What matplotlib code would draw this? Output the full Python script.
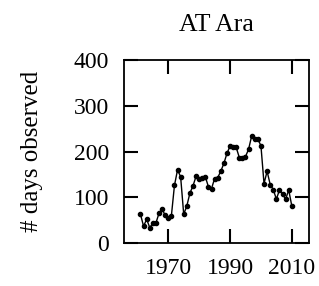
import matplotlib
matplotlib.use("Agg")
import matplotlib.pyplot as plt

years = list(range(1961, 2011))
days = [63, 37, 52, 34, 43, 44, 65, 74, 61, 54,
        59, 126, 160, 145, 63, 81, 109, 125, 146, 139,
        142, 145, 123, 119, 141, 143, 157, 174, 196, 212,
        211, 209, 187, 185, 189, 205, 234, 227, 227, 213,
        130, 157, 128, 117, 96, 116, 107, 96, 116, 81]
xticks = [1970, 1990, 2010]
yticks = [0, 100, 200, 300, 400]

plt.rcParams['font.family'] = ['Liberation Serif', 'DejaVu Serif']
fig = plt.figure(figsize=(3.19, 2.86), dpi=100)
ax = fig.add_axes([0.390, 0.150, 0.579, 0.640])
ax.plot(years, days, color='black', lw=1.0, marker='o', markersize=3)
ax.set_xlim(1955.8, 2015.6)
ax.set_ylim(0, 400)
ax.set_xticks(xticks)
ax.set_yticks(yticks)
ax.tick_params(direction='in', length=10, width=1.5, top=True, right=True,
               labelsize=17, pad=11)
for s in ax.spines.values():
    s.set_linewidth(1.3)
ax.set_title('AT Ara', fontsize=18.5, pad=21)
ax.set_ylabel('# days observed', fontsize=18, labelpad=22)
fig.savefig('out.png', dpi=100)
